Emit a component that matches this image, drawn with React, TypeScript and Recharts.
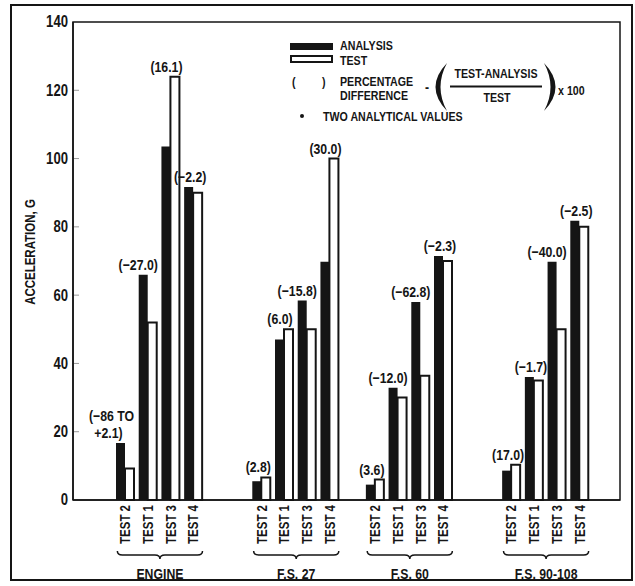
import { BarChart, Bar, XAxis, YAxis, LabelList, Customized } from "recharts";

const GROUPS = ["ENGINE", "F.S. 27", "F.S. 60", "F.S. 90-108"];
const TESTS = ["TEST 2", "TEST 1", "TEST 3", "TEST 4"];
// values in order ENGINE T2,T1,T3,T4, F.S.27 ..., F.S.60 ..., F.S.90-108 ...
const ANALYSIS = [16.7, 66, 103.5, 91.7, 5.5, 47, 58.4, 69.8, 4.5, 32.9, 58, 71.5, 8.6, 36, 69.8, 81.8];
const TEST = [9.2, 52, 124, 90, 6.6, 50, 50, 100, 6, 30, 36.4, 70, 10.3, 35, 50, 80];
const PCT = [
  "(−86 TO\n+2.1)", "(−27.0)", "(16.1)", "(−2.2)",
  "(2.8)", "(6.0)", "(−15.8)", "(30.0)",
  "(3.6)", "(−12.0)", "(−62.8)", "(−2.3)",
  "(17.0)", "(−1.7)", "(−40.0)", "(−2.5)",
];
const GAPS = [2, 1, 2]; // empty slots between groups
const Y_TICKS = [0, 20, 40, 60, 80, 100, 120, 140];

const FONT = "'Liberation Sans', Arial, sans-serif";
const INK = "#151515";
const SX = 0.82; // fake a condensed face

type Row = {
  key: string;
  group: string;
  test: string;
  pos: number;
  analysis?: number;
  measured?: number;
  pct?: string;
};

const rows: Row[] = [];
GROUPS.forEach((g, gi) => {
  TESTS.forEach((t, ti) => {
    const i = gi * 4 + ti;
    rows.push({ key: `${g}-${t}`, group: g, test: t, pos: ti, analysis: ANALYSIS[i], measured: TEST[i], pct: PCT[i] });
  });
  for (let k = 0; k < (GAPS[gi] || 0); k++) rows.push({ key: `gap-${gi}-${k}`, group: "", test: "", pos: -1 });
});

const W = 635;
const H = 586;
const PLOT = { left: 73, top: 22, right: 620, bottom: 500 };
const PAD_L = 41;
const PAD_R = 29;
const SLOT = (PLOT.right - PLOT.left - PAD_L - PAD_R) / rows.length;

const findRow = (key: string) => rows.find((r) => r.key === key);

const CText = ({ x, y, size = 13, anchor = "start", rotate = 0, baseline, children }: any) => (
  <text
    transform={`translate(${x} ${y}) rotate(${rotate}) scale(${SX} 1)`}
    textAnchor={anchor}
    dominantBaseline={baseline}
    fontFamily={FONT}
    fontSize={size}
    fontWeight={700}
    fill={INK}
  >
    {children}
  </text>
);

const Brace = ({ x0, x1, y, label }: { x0: number; x1: number; y: number; label: string }) => {
  const m = (x0 + x1) / 2;
  const d = `M${x0},${y} Q${x0},${y + 4} ${x0 + 5},${y + 4} L${m - 5},${y + 4} Q${m},${y + 4} ${m},${y + 8} Q${m},${y + 4} ${m + 5},${y + 4} L${x1 - 5},${y + 4} Q${x1},${y + 4} ${x1},${y}`;
  return (
    <g>
      <path d={d} fill="none" stroke={INK} strokeWidth={1.5} />
      <CText x={m} y={y + 28} size={15} anchor="middle">
        {label}
      </CText>
    </g>
  );
};

const XTick = (props: any) => {
  const { x, y, payload } = props;
  const r = findRow(payload?.value);
  if (!r || !r.test) return null;
  return (
    <g>
      <CText x={x} y={y + 5} size={14} rotate={-90} anchor="end" baseline="central">
        {r.test}
      </CText>
      {r.pos === 0 && <Brace x0={x - 8} x1={x + 3 * SLOT + 9} y={y + 51} label={r.group} />}
    </g>
  );
};

const YTick = (props: any) => {
  const { x, y, payload } = props;
  const axisX = Number(x) + 5;
  return (
    <g>
      {payload.value > 0 && payload.value < 140 && (
        <line x1={axisX + 1} x2={axisX + 6} y1={y} y2={y} stroke="#9a9a9a" strokeWidth={1} />
      )}
      <CText x={x} y={y} size={16} anchor="end" baseline="central">
        {payload.value}
      </CText>
    </g>
  );
};

const makePctLabel = (which: "analysis" | "measured") => (props: any) => {
  const { x, y, width, value } = props;
  const r = findRow(value);
  if (!r || r.pct == null || r.analysis == null || r.measured == null) return null;
  const taller = r.analysis >= r.measured ? "analysis" : "measured";
  if (taller !== which) return null;
  const pair = which === "analysis" ? Number(x) + Number(width) : Number(x);
  const close = Math.abs(r.analysis - r.measured) < 2;
  const cx = close ? pair - 3 : which === "analysis" ? pair - Number(width) / 2 - 5 : pair - 4;
  const lines = r.pct.split("\n");
  const base = Number(y) - 5;
  return (
    <g>
      {lines.map((l, k) => (
        <CText
          key={k}
          x={cx - (lines.length > 1 ? (k === 0 ? 4 : 7) : 0)}
          y={base - (lines.length - 1 - k) * 17}
          size={15}
          anchor="middle"
        >
          {l}
        </CText>
      ))}
    </g>
  );
};

const Notes = () => (
  <g>
    {/* outer frame and plot box */}
    <rect x={11} y={5} width={621} height={575} fill="none" stroke={INK} strokeWidth={2} />
    <rect
      x={PLOT.left}
      y={PLOT.top}
      width={PLOT.right - PLOT.left}
      height={PLOT.bottom - PLOT.top}
      fill="none"
      stroke={INK}
      strokeWidth={1.5}
    />

    <CText x={30} y={252} size={14} rotate={-90} anchor="middle" baseline="central">
      ACCELERATION, G
    </CText>

    <rect x={290} y={43} width={43} height={7} fill={INK} />
    <rect x={291} y={56} width={41} height={6} fill="#fff" stroke={INK} strokeWidth={2} />
    <CText x={340} y={50}>ANALYSIS</CText>
    <CText x={340} y={65}>TEST</CText>
    <CText x={292} y={86}>(</CText>
    <CText x={322} y={86}>)</CText>
    <CText x={340} y={86}>PERCENTAGE</CText>
    <CText x={340} y={100}>DIFFERENCE</CText>
    <CText x={425} y={92} size={15}>-</CText>
    <path d="M447,63 Q424,87 447,111 Q434,87 447,63 Z" fill={INK} />
    <CText x={496} y={78} anchor="middle">TEST-ANALYSIS</CText>
    <line x1={450} x2={542} y1={86.5} y2={86.5} stroke={INK} strokeWidth={1.8} />
    <CText x={497} y={102} anchor="middle">TEST</CText>
    <path d="M544,63 Q567,87 544,111 Q557,87 544,63 Z" fill={INK} />
    <CText x={558} y={95}>x 100</CText>
    <circle cx={302} cy={116} r={2} fill={INK} />
    <CText x={323} y={121}>TWO ANALYTICAL VALUES</CText>
  </g>
);

export default function App() {
  return (
    <div style={{ width: W, height: H, background: "#fff" }}>
      <style>{`html,body{margin:0;padding:0;overflow:hidden;background:#fff}`}</style>
      <BarChart
        width={W}
        height={H}
        data={rows}
        margin={{ top: PLOT.top, right: W - PLOT.right, bottom: 0, left: 0 }}
        barGap={0}
        barSize={9}
      >
        <XAxis
          dataKey="key"
          type="category"
          height={H - PLOT.bottom}
          padding={{ left: PAD_L, right: PAD_R }}
          interval={0}
          tickLine={false}
          tickSize={0}
          tickMargin={0}
          tick={<XTick />}
          axisLine={{ stroke: INK, strokeWidth: 1.5 }}
        />
        <YAxis
          width={PLOT.left}
          type="number"
          domain={[0, 140]}
          ticks={Y_TICKS}
          interval={0}
          tickLine={false}
          tickSize={3}
          tickMargin={2}
          tick={<YTick />}
          axisLine={{ stroke: INK, strokeWidth: 1.5 }}
        />
        <Bar dataKey="analysis" fill={INK} isAnimationActive={false}>
          <LabelList dataKey="key" content={makePctLabel("analysis")} />
        </Bar>
        <Bar dataKey="measured" fill="#fff" stroke={INK} strokeWidth={2} isAnimationActive={false}>
          <LabelList dataKey="key" content={makePctLabel("measured")} />
        </Bar>
        <Customized component={Notes} />
      </BarChart>
    </div>
  );
}
